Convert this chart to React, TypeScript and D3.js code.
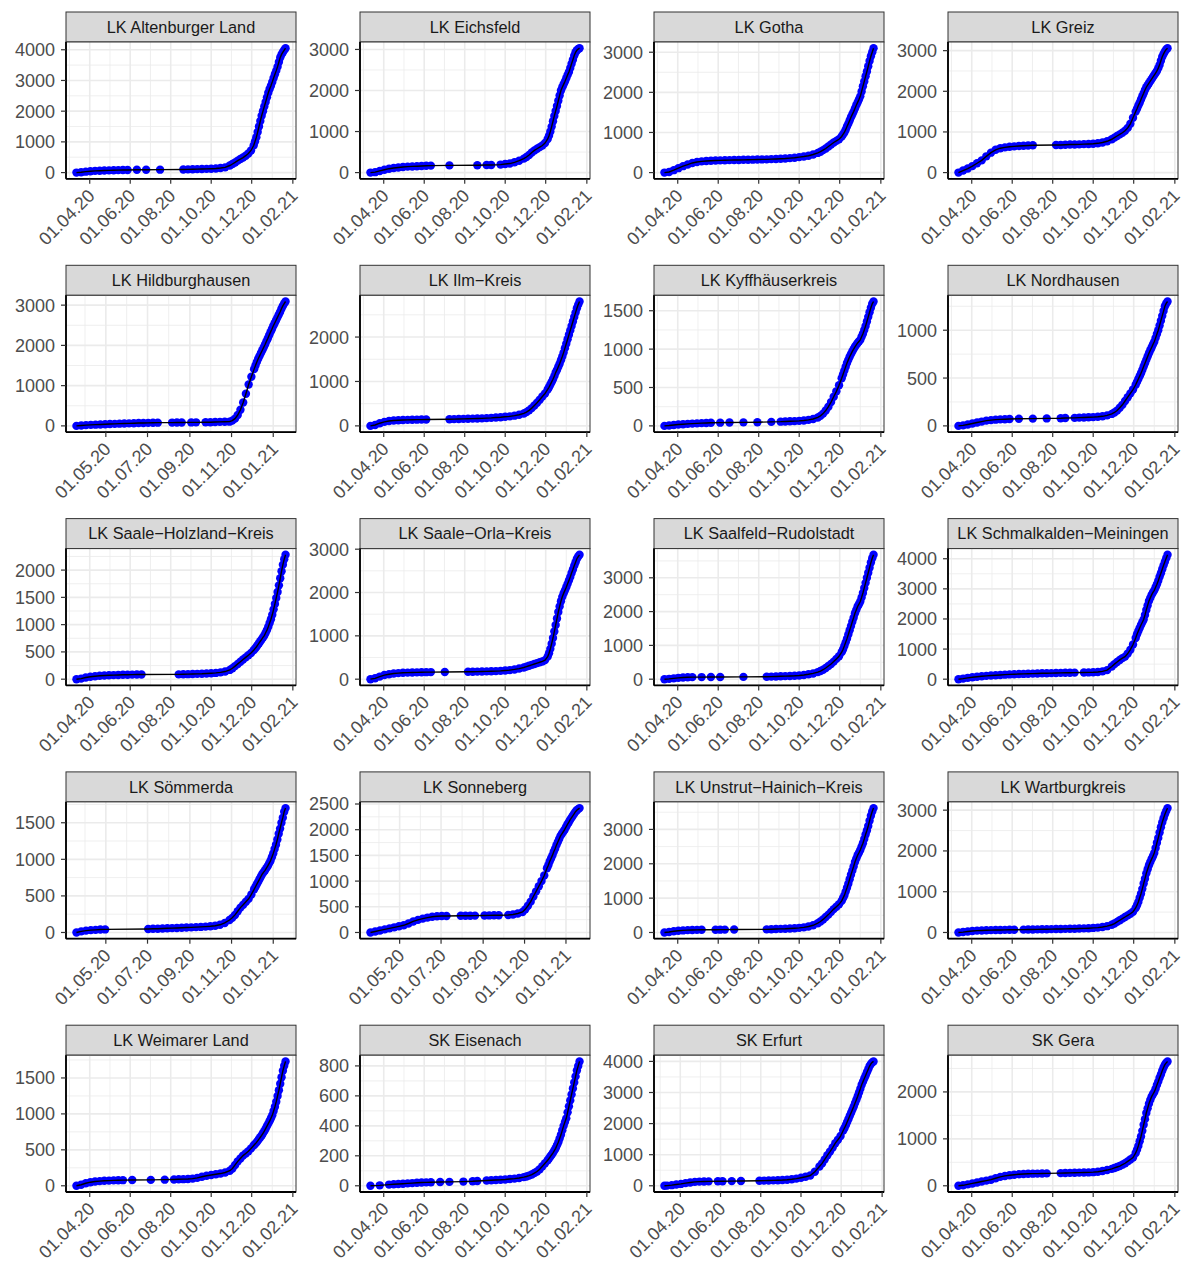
import React from 'react';
import * as d3 from 'd3';

const _ = null;

// sample days, counted from 1 March 2020 (day 0)
const gridDays = [
  7, 11, 18, 25, 32, 39, 46, 53, 60, 67,
  74, 81, 88, 95, 102, 109, 116, 123, 130, 137,
  144, 151, 158, 165, 172, 179, 186, 193, 200, 207,
  214, 221, 228, 235, 242, 246, 250, 254, 258, 262,
  266, 270, 274, 278, 280, 282, 284, 286, 288, 290,
  292, 294, 296, 298, 300, 302, 304, 306, 308, 310,
  312, 314, 316, 318, 320, 322, 324, 326,
];

const altenburgerLand = [
  _, 0, 10, 30, 45, 55, 62, 68, 72, 76,
  80, 83, 86, _, 90, _, 92, _, _, 95,
  _, _, _, _, 100, 104, 108, 112, 116, 120,
  126, 135, 150, 170, 230, 280, 330, 390, 440, 490,
  550, 620, 720, 880, 1010, 1150, 1320, 1500, 1680, 1850,
  2000, 2150, 2300, 2450, 2600, 2720, 2830, 2950, 3080, 3200,
  3320, 3450, 3600, 3750, 3850, 3920, 3990, 4050,
];
const eichsfeld = [
  _, 0, 10, 40, 70, 95, 110, 125, 135, 145,
  150, 155, 160, 165, 170, _, _, _, 175, _,
  _, _, _, _, 180, _, 183, 185, _, 195,
  210, 220, 250, 290, 340, 380, 430, 490, 540, 580,
  620, 660, 720, 820, 900, 1000, 1120, 1250, 1380, 1500,
  1620, 1750, 1880, 2000, 2080, 2150, 2220, 2300, 2380, 2450,
  2550, 2650, 2750, 2850, 2930, 2980, 3010, 3030,
];
const gotha = [
  _, 0, 15, 60, 110, 160, 200, 240, 265, 280,
  290, 295, 300, 305, 308, 310, 312, 315, 318, 320,
  322, 325, 328, 330, 335, 340, 345, 350, 360, 370,
  385, 400, 420, 450, 490, 520, 560, 600, 650, 700,
  750, 790, 830, 900, 950, 1000, 1070, 1150, 1220, 1300,
  1380, 1450, 1520, 1600, 1680, 1750, 1820, 1900, 2020, 2150,
  2270, 2400, 2520, 2650, 2780, 2900, 3000, 3100,
];
const greiz = [
  _, 0, 50, 100, 160, 230, 300, 400, 490, 560,
  600, 620, 635, 645, 655, 662, 668, 672, _, _,
  _, _, 678, 680, 685, 690, 690, 695, 700, 705,
  710, 720, 740, 770, 820, 860, 900, 940, 980, 1030,
  1100, 1200, 1350, 1500, 1570, 1650, 1720, 1800, 1880, 1950,
  2030, 2100, 2150, 2200, 2250, 2300, 2350, 2400, 2450, 2500,
  2570, 2650, 2750, 2850, 2920, 2980, 3030, 3060,
];
const hildburghausen = [
  _, _, 0, 10, 20, 25, 30, 35, 40, 45,
  50, 55, 60, 63, 66, 70, 72, 75, 78, 80,
  _, _, 82, 83, 85, _, 86, 88, _, 90,
  92, 95, 100, 102, 105, 130, 180, 270, 400, 580,
  800, 1030, 1220, 1410, 1500, 1590, 1670, 1740, 1810, 1880,
  1950, 2020, 2100, 2170, 2250, 2330, 2400, 2480, 2550, 2620,
  2690, 2760, 2830, 2910, 2980, 3040, 3090, _,
];
const ilmKreis = [
  _, 0, 20, 60, 90, 110, 120, 128, 132, 135,
  138, 140, 142, 145, _, _, _, _, 150, 152,
  155, 158, 160, 163, 166, 170, 175, 180, 188, 195,
  205, 215, 230, 250, 280, 310, 350, 400, 460, 520,
  590, 660, 730, 820, 870, 930, 990, 1050, 1120, 1200,
  1260, 1330, 1400, 1480, 1560, 1650, 1750, 1850, 1950, 2050,
  2150, 2250, 2350, 2450, 2550, 2650, 2730, 2800,
];
const kyffhaeuserkreis = [
  _, 0, 5, 12, 18, 22, 26, 30, 33, 36,
  38, 40, _, 42, _, 44, _, _, 46, _,
  _, 48, _, _, 52, _, 55, 58, 60, 62,
  65, 70, 78, 90, 110, 130, 160, 200, 250, 310,
  380, 450, 530, 620, 670, 720, 770, 820, 860, 900,
  935, 970, 1000, 1030, 1055, 1080, 1100, 1120, 1160, 1200,
  1250, 1300, 1360, 1420, 1480, 1540, 1590, 1620,
];
const nordhausen = [
  _, 0, 5, 15, 25, 35, 45, 55, 60, 65,
  68, 70, 72, _, 74, _, _, 76, _, _,
  78, _, _, 80, 82, _, 84, 86, 88, 90,
  92, 95, 100, 110, 125, 140, 160, 190, 220, 260,
  300, 340, 380, 430, 460, 490, 520, 550, 585, 620,
  655, 690, 725, 760, 790, 820, 850, 880, 920, 960,
  1000, 1050, 1100, 1150, 1200, 1250, 1280, 1300,
];
const saaleHolzland = [
  _, 0, 10, 30, 45, 55, 62, 68, 72, 75,
  78, 80, 82, 84, 85, 86, _, _, _, _,
  _, _, _, 88, 90, 92, 95, 98, 100, 105,
  110, 115, 125, 140, 170, 200, 240, 280, 320, 360,
  400, 440, 480, 530, 560, 590, 625, 660, 695, 730,
  765, 800, 850, 900, 960, 1030, 1100, 1180, 1280, 1380,
  1490, 1600, 1720, 1850, 1980, 2100, 2200, 2280,
];
const saaleOrla = [
  _, 0, 20, 60, 95, 115, 130, 140, 148, 152,
  155, 158, 160, 162, 164, _, _, 166, _, _,
  _, _, 170, 172, 175, 178, 180, 183, 187, 192,
  200, 210, 225, 245, 270, 290, 310, 330, 350, 370,
  390, 410, 440, 520, 600, 700, 820, 950, 1100, 1250,
  1400, 1550, 1680, 1800, 1900, 1980, 2050, 2120, 2200, 2280,
  2360, 2450, 2530, 2620, 2700, 2780, 2830, 2870,
];
const saalfeldRudolstadt = [
  _, 0, 10, 25, 40, 50, 55, 60, _, 62,
  _, 64, _, 65, _, _, _, _, 68, _,
  _, _, _, 72, 75, 80, 85, 90, 95, 100,
  110, 125, 145, 170, 210, 240, 280, 330, 390, 450,
  520, 600, 680, 800, 880, 980, 1090, 1200, 1320, 1450,
  1570, 1700, 1820, 1950, 2050, 2150, 2220, 2300, 2420, 2550,
  2700, 2850, 3000, 3150, 3300, 3450, 3580, 3680,
];
const schmalkaldenMeiningen = [
  _, 0, 20, 45, 65, 80, 95, 110, 120, 130,
  140, 150, 158, 165, 170, 175, 180, 185, 190, 195,
  198, 202, 206, 210, 213, 216, 218, _, 222, 225,
  230, 240, 260, 300, 420, 500, 570, 640, 700, 750,
  850, 980, 1150, 1370, 1490, 1600, 1700, 1800, 1890, 1980,
  2130, 2300, 2450, 2600, 2700, 2800, 2880, 2950, 3050, 3150,
  3270, 3400, 3520, 3650, 3780, 3900, 4020, 4130,
];
const soemmerda = [
  _, _, 0, 15, 25, 32, 36, 40, 42, _,
  _, _, _, _, _, _, _, 48, 50, 52,
  55, 58, 60, 62, 65, 68, 70, 73, 76, 80,
  85, 92, 105, 130, 170, 200, 240, 290, 340, 380,
  420, 460, 520, 590, 625, 660, 695, 730, 765, 800,
  825, 850, 880, 910, 945, 980, 1030, 1080, 1140, 1200,
  1270, 1350, 1420, 1500, 1570, 1650, 1700, _,
];
const sonneberg = [
  _, _, 0, 20, 40, 60, 80, 100, 120, 140,
  175, 215, 245, 270, 290, 305, 315, 320, 322, _,
  _, 325, 326, 327, 328, _, 330, 332, 334, 336,
  _, 340, 350, 370, 400, 450, 520, 600, 700, 800,
  900, 1000, 1110, 1250, 1310, 1380, 1440, 1500, 1570, 1630,
  1700, 1760, 1820, 1880, 1920, 1960, 2000, 2050, 2100, 2140,
  2190, 2230, 2270, 2310, 2350, 2380, 2400, 2420,
];
const unstrutHainich = [
  _, 0, 15, 35, 50, 60, 68, 72, 76, 78,
  _, _, 80, 82, 84, _, 86, _, _, _,
  _, _, _, 90, 95, 100, 105, 110, 118, 125,
  135, 150, 175, 210, 270, 320, 380, 450, 520, 600,
  680, 750, 820, 920, 1000, 1080, 1190, 1300, 1420, 1550,
  1680, 1800, 1920, 2050, 2150, 2250, 2320, 2400, 2500, 2600,
  2720, 2850, 2970, 3100, 3250, 3400, 3520, 3620,
];
const wartburgkreis = [
  _, 0, 10, 25, 38, 45, 50, 55, 58, 60,
  62, 64, 66, 68, _, 70, 72, 74, 76, 78,
  80, 82, 84, 86, 88, 90, 93, 96, 100, 105,
  112, 120, 135, 155, 190, 220, 260, 300, 340, 380,
  420, 460, 510, 600, 670, 750, 850, 950, 1070, 1200,
  1320, 1450, 1550, 1650, 1730, 1800, 1870, 1950, 2070, 2200,
  2320, 2450, 2580, 2700, 2800, 2900, 2980, 3050,
];
const weimarerLand = [
  _, 0, 15, 35, 50, 60, 65, 70, 72, 75,
  77, 78, _, 80, _, _, _, 82, _, _,
  85, _, 88, 90, 92, 95, 100, 110, 125, 140,
  150, 160, 170, 185, 210, 240, 290, 340, 380, 420,
  450, 480, 520, 560, 580, 600, 625, 650, 675, 700,
  730, 760, 795, 830, 865, 900, 940, 980, 1040, 1100,
  1170, 1250, 1330, 1420, 1510, 1600, 1670, 1730,
];
const eisenach = [
  _, 0, _, 3, _, 8, 10, 12, 14, 16,
  18, 20, 22, 23, 24, _, 25, _, 26, _,
  _, 28, _, 30, 32, _, 35, 37, 39, 40,
  42, 45, 48, 52, 58, 62, 68, 75, 85, 95,
  110, 130, 150, 170, 182, 195, 207, 220, 235, 250,
  270, 290, 315, 340, 370, 400, 425, 450, 490, 530,
  570, 610, 650, 690, 730, 770, 800, 830,
];
const erfurt = [
  0, 5, 20, 40, 60, 85, 105, 125, 135, 140,
  142, _, 145, 147, _, 150, _, 152, _, _,
  _, 160, 165, 170, 175, 180, 185, 195, 210, 230,
  260, 290, 330, 450, 620, 720, 850, 980, 1100, 1230,
  1370, 1480, 1600, 1780, 1860, 1950, 2050, 2150, 2250, 2350,
  2450, 2550, 2660, 2770, 2880, 3000, 3120, 3250, 3350, 3450,
  3550, 3650, 3750, 3850, 3920, 3970, 4000, _,
];
const gera = [
  _, 0, 10, 30, 50, 70, 90, 110, 130, 160,
  190, 210, 225, 235, 245, 250, 255, 258, 260, 262,
  265, _, _, 270, 272, 275, 278, 280, 282, 285,
  290, 300, 315, 335, 360, 380, 400, 420, 450, 480,
  520, 560, 600, 700, 770, 850, 950, 1050, 1170, 1300,
  1420, 1550, 1650, 1750, 1830, 1900, 1950, 2000, 2070, 2150,
  2220, 2300, 2370, 2450, 2520, 2580, 2620, 2650,
];

const districtNames = [
  'LK Altenburger Land', 'LK Eichsfeld', 'LK Gotha', 'LK Greiz',
  'LK Hildburghausen', 'LK Ilm\u2212Kreis', 'LK Kyffhäuserkreis', 'LK Nordhausen',
  'LK Saale\u2212Holzland\u2212Kreis', 'LK Saale\u2212Orla\u2212Kreis', 'LK Saalfeld\u2212Rudolstadt', 'LK Schmalkalden\u2212Meiningen',
  'LK Sömmerda', 'LK Sonneberg', 'LK Unstrut\u2212Hainich\u2212Kreis', 'LK Wartburgkreis',
  'LK Weimarer Land', 'SK Eisenach', 'SK Erfurt', 'SK Gera',
];
const districtSeries = [
  altenburgerLand, eichsfeld, gotha, greiz,
  hildburghausen, ilmKreis, kyffhaeuserkreis, nordhausen,
  saaleHolzland, saaleOrla, saalfeldRudolstadt, schmalkaldenMeiningen,
  soemmerda, sonneberg, unstrutHainich, wartburgkreis,
  weimarerLand, eisenach, erfurt, gera,
];
const yTickSets = [
  [0, 1000, 2000, 3000, 4000], [0, 1000, 2000, 3000], [0, 1000, 2000, 3000], [0, 1000, 2000, 3000],
  [0, 1000, 2000, 3000], [0, 1000, 2000], [0, 500, 1000, 1500], [0, 500, 1000],
  [0, 500, 1000, 1500, 2000], [0, 1000, 2000, 3000], [0, 1000, 2000, 3000], [0, 1000, 2000, 3000, 4000],
  [0, 500, 1000, 1500], [0, 500, 1000, 1500, 2000, 2500], [0, 1000, 2000, 3000], [0, 1000, 2000, 3000],
  [0, 500, 1000, 1500], [0, 200, 400, 600, 800], [0, 1000, 2000, 3000, 4000], [0, 1000, 2000],
];

const stdTickDates = ['2020-04-01', '2020-06-01', '2020-08-01', '2020-10-01', '2020-12-01', '2021-02-01'];
const stdTickLabels = ['01.04.20', '01.06.20', '01.08.20', '01.10.20', '01.12.20', '01.02.21'];
const altTickDates = ['2020-05-01', '2020-07-01', '2020-09-01', '2020-11-01', '2021-01-01'];
const altTickLabels = ['01.05.20', '01.07.20', '01.09.20', '01.11.20', '01.01.21'];
const altTickDistricts = ['LK Hildburghausen', 'LK Sömmerda', 'LK Sonneberg'];

const FONT = "'Liberation Sans', Arial, Helvetica, sans-serif";
const DAY = 86400000;
const BASE = Date.UTC(2020, 2, 1);

const colLefts = [66, 360, 654, 948];
const rowTops = [12, 265.3, 518.6, 771.9, 1025.2];
const PW = 230;
const PH = 136.8;
const SH = 30;

function minorOf(major: number[], lo: number, hi: number) {
  if (major.length < 2) return [];
  const bd = major[1] - major[0];
  const b = [major[0] - bd, ...major, major[major.length - 1] + bd];
  const out: number[] = [];
  for (let i = 0; i < b.length - 1; i++) out.push((b[i] + b[i + 1]) / 2);
  return out.filter((v) => v >= lo && v <= hi);
}

function Panel({ idx }: { idx: number }) {
  const name = districtNames[idx];
  const values = districtSeries[idx];
  const yTicks = yTickSets[idx];
  const alt = altTickDistricts.includes(name);
  const tickDates = (alt ? altTickDates : stdTickDates).map((s) => +new Date(s + 'T00:00:00Z'));
  const tickLabels = alt ? altTickLabels : stdTickLabels;
  const left = colLefts[idx % 4];
  const top = rowTops[Math.floor(idx / 4)];

  const pts = gridDays
    .map((d, i) => ({ t: BASE + d * DAY, v: values[i] as number | null }))
    .filter((p) => p.v !== null) as { t: number; v: number }[];

  const [tMin, tMax] = d3.extent(pts, (p) => p.t) as [number, number];
  const [vMin, vMax] = d3.extent(pts, (p) => p.v) as [number, number];
  const tPad = (tMax - tMin) * 0.05;
  const vPad = (vMax - vMin) * 0.05;
  const x = d3.scaleUtc().domain([new Date(tMin - tPad), new Date(tMax + tPad)]).range([0, PW]);
  const y = d3.scaleLinear().domain([vMin - vPad, vMax + vPad]).range([PH, 0]);

  const xMinor = minorOf(tickDates, tMin - tPad, tMax + tPad);
  const yMinor = minorOf(yTicks, vMin - vPad, vMax + vPad);
  const line = d3.line<{ t: number; v: number }>().x((p) => x(new Date(p.t))).y((p) => y(p.v));

  return (
    <g transform={`translate(${left},${top})`}>
      <rect x={0} y={0} width={PW} height={SH} fill="#D9D9D9" stroke="#333333" strokeWidth={1} />
      <text x={PW / 2} y={SH / 2} dy="0.36em" textAnchor="middle" fontSize={16.3} fill="#1A1A1A" fontFamily={FONT}>
        {name}
      </text>
      <g transform={`translate(0,${SH})`}>
        <rect x={0} y={0} width={PW} height={PH} fill="#FFFFFF" />
        {xMinor.map((t, i) => (
          <line key={'xm' + i} x1={x(new Date(t))} x2={x(new Date(t))} y1={0} y2={PH} stroke="#EBEBEB" strokeWidth={0.8} />
        ))}
        {yMinor.map((v, i) => (
          <line key={'ym' + i} x1={0} x2={PW} y1={y(v)} y2={y(v)} stroke="#EBEBEB" strokeWidth={0.8} />
        ))}
        {tickDates.map((t, i) => (
          <line key={'xM' + i} x1={x(new Date(t))} x2={x(new Date(t))} y1={0} y2={PH} stroke="#EBEBEB" strokeWidth={1.6} />
        ))}
        {yTicks.map((v, i) => (
          <line key={'yM' + i} x1={0} x2={PW} y1={y(v)} y2={y(v)} stroke="#EBEBEB" strokeWidth={1.6} />
        ))}
        {pts.map((p, i) => (
          <circle key={'p' + i} cx={x(new Date(p.t))} cy={y(p.v)} r={4.2} fill="#0000FF" />
        ))}
        <path d={line(pts) || ''} fill="none" stroke="#000000" strokeWidth={1.4} />
        <rect x={0} y={0} width={PW} height={PH} fill="none" stroke="#333333" strokeWidth={1} />
        <line x1={0} x2={0} y1={0} y2={PH} stroke="#000000" strokeWidth={1.8} />
        <line x1={0} x2={PW} y1={PH} y2={PH} stroke="#000000" strokeWidth={1.8} />
        {yTicks.map((v, i) => (
          <g key={'yt' + i}>
            <line x1={-5} x2={0} y1={y(v)} y2={y(v)} stroke="#333333" strokeWidth={1.2} />
            <text x={-11} y={y(v)} dy="0.36em" textAnchor="end" fontSize={18} fill="#4D4D4D" fontFamily={FONT}>
              {String(v)}
            </text>
          </g>
        ))}
        {tickDates.map((t, i) => {
          const tx = x(new Date(t));
          return (
            <g key={'xt' + i}>
              <line x1={tx} x2={tx} y1={PH} y2={PH + 5} stroke="#333333" strokeWidth={1.2} />
              <text
                transform={`translate(${tx + 6},${PH + 18}) rotate(-45)`}
                textAnchor="end"
                fontSize={18}
                fill="#4D4D4D"
                fontFamily={FONT}
              >
                {tickLabels[i]}
              </text>
            </g>
          );
        })}
      </g>
    </g>
  );
}

export default function App() {
  return (
    <svg
      width={1184}
      height={1265}
      style={{ position: 'absolute', left: 0, top: 0, background: '#FFFFFF' }}
      xmlns="http://www.w3.org/2000/svg"
    >
      <rect x={0} y={0} width={1184} height={1265} fill="#FFFFFF" />
      {districtNames.map((_n, i) => (
        <Panel key={i} idx={i} />
      ))}
    </svg>
  );
}
